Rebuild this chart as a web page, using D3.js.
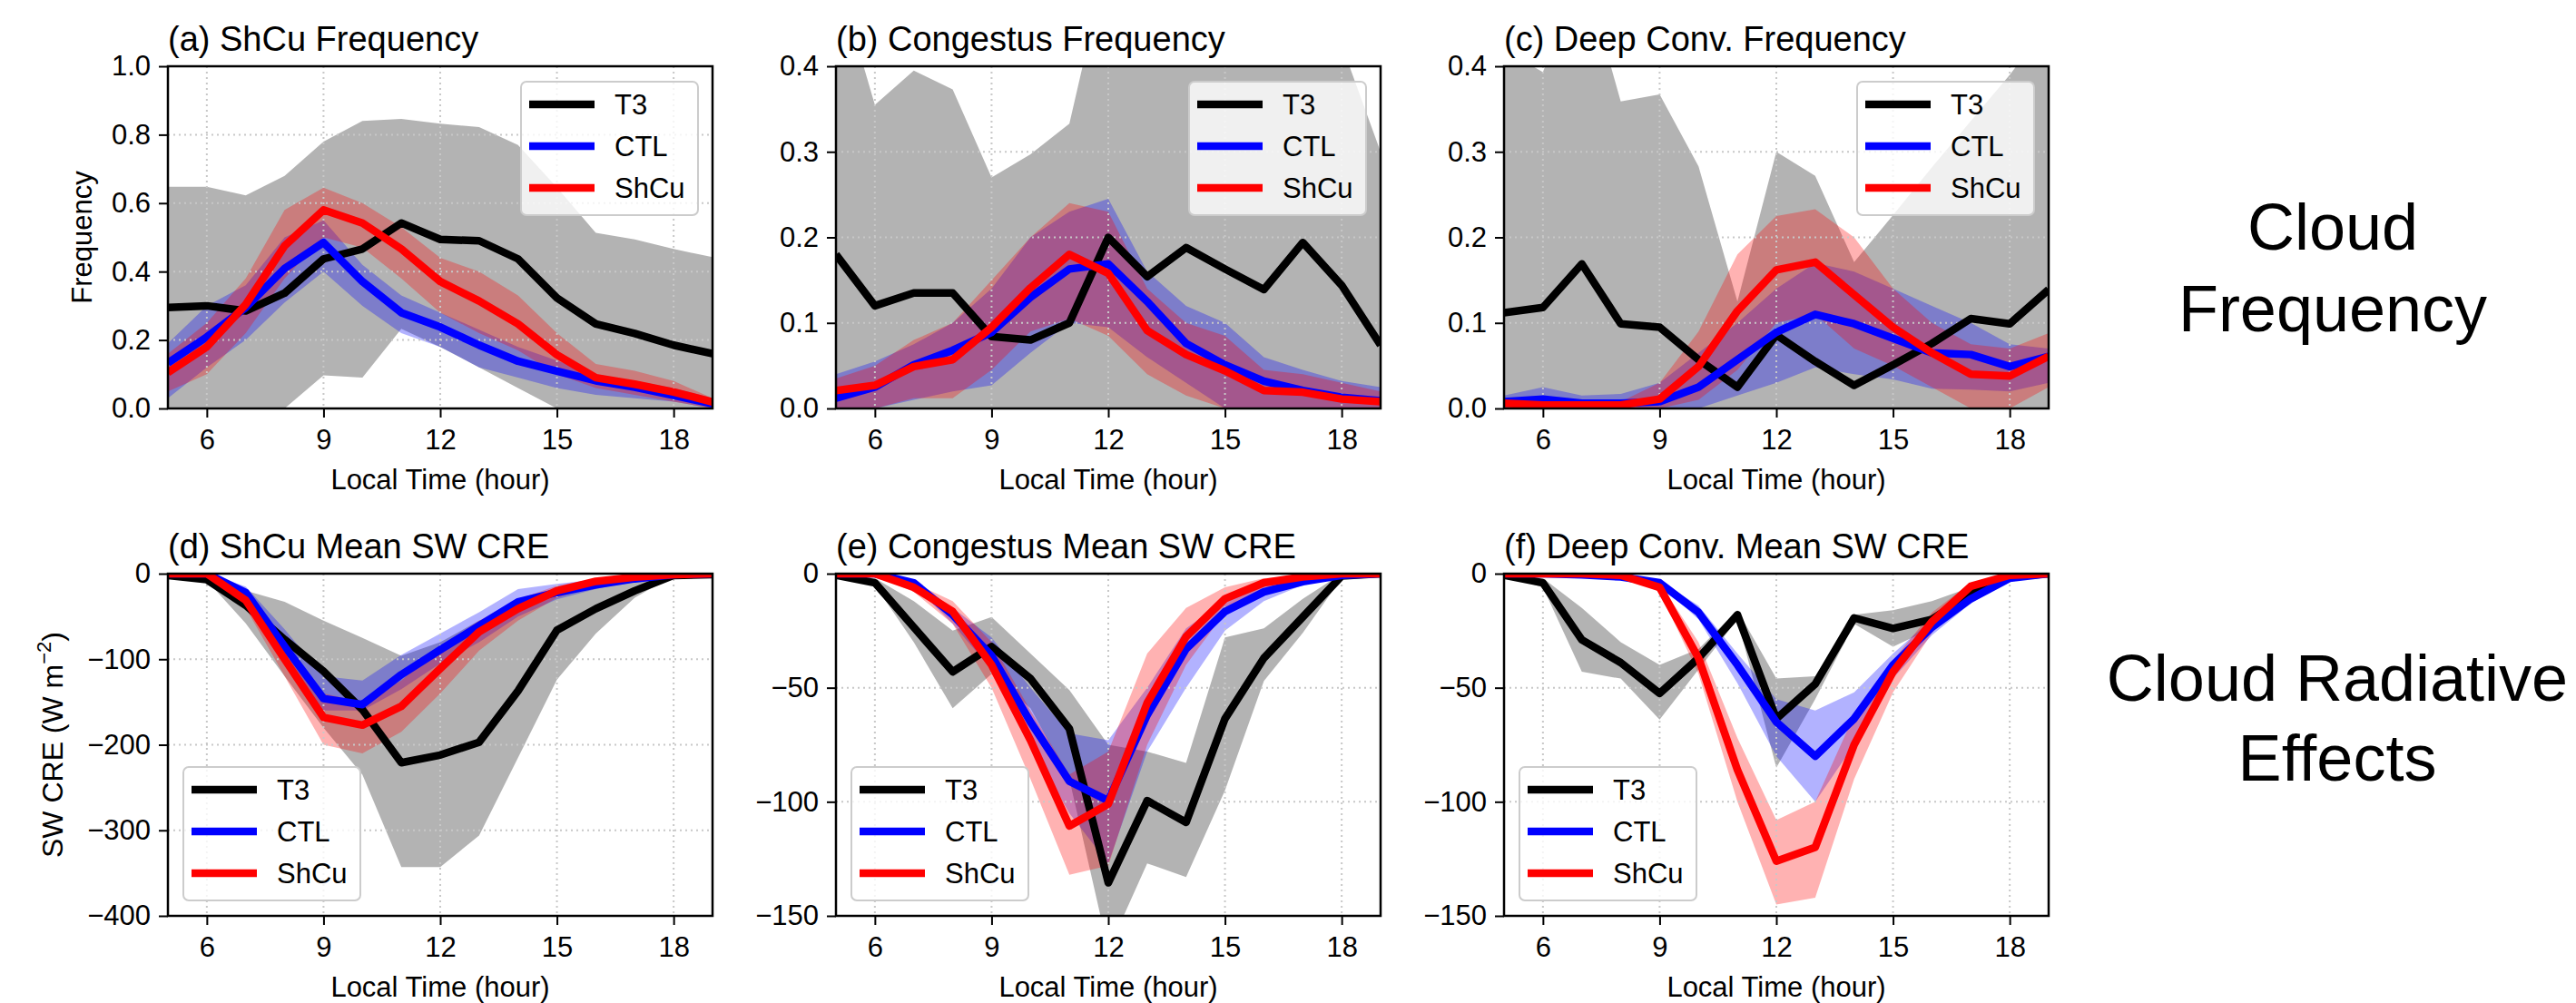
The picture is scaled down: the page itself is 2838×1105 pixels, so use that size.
<!DOCTYPE html>
<html>
<head>
<meta charset="utf-8">
<script src="https://cdn.jsdelivr.net/npm/d3@7"></script>
<style>
  body { margin: 0; background: #fff; }
  svg { display: block; }
  text { font-family: "Liberation Sans", Arial, Helvetica, sans-serif; fill: #000; }
</style>
</head>
<body>
<div id="chart"></div>
<script>
// local time (hour)
const hours = [5, 6, 7, 8, 9, 10, 11, 12, 13, 14, 15, 16, 17, 18, 19];
const xTicks = [6, 9, 12, 15, 18];
const seriesNames = ["T3", "CTL", "ShCu"];

// (a) ShCu frequency
const aT3 = [0.295, 0.30, 0.285, 0.337, 0.437, 0.466, 0.542, 0.494, 0.49, 0.437, 0.323, 0.247, 0.219, 0.185, 0.16];
const aT3Lo = [0, 0, 0, 0, 0.097, 0.09, 0.233, 0.18, 0.12, 0.06, 0, 0, 0, 0, 0];
const aT3Hi = [0.648, 0.648, 0.623, 0.68, 0.78, 0.84, 0.846, 0.832, 0.822, 0.77, 0.646, 0.513, 0.494, 0.466, 0.442];
const aCtl = [0.133, 0.209, 0.295, 0.409, 0.485, 0.371, 0.28, 0.238, 0.185, 0.138, 0.109, 0.081, 0.062, 0.038, 0.014];
const aCtlLo = [0.03, 0.12, 0.2, 0.31, 0.4, 0.3, 0.22, 0.18, 0.12, 0.09, 0.06, 0.04, 0.03, 0.02, 0.0];
const aCtlHi = [0.19, 0.3, 0.36, 0.5, 0.55, 0.42, 0.33, 0.28, 0.23, 0.18, 0.14, 0.1, 0.08, 0.06, 0.03];
const aShcu = [0.105, 0.18, 0.304, 0.475, 0.58, 0.542, 0.466, 0.371, 0.314, 0.247, 0.157, 0.09, 0.071, 0.048, 0.019];
const aShcuLo = [0.05, 0.1, 0.22, 0.38, 0.5, 0.47, 0.38, 0.28, 0.22, 0.17, 0.1, 0.06, 0.04, 0.02, 0.0];
const aShcuHi = [0.16, 0.25, 0.38, 0.58, 0.645, 0.6, 0.53, 0.44, 0.4, 0.33, 0.22, 0.13, 0.11, 0.08, 0.03];

// (b) Congestus frequency
const bT3 = [0.18, 0.12, 0.135, 0.135, 0.084, 0.08, 0.10, 0.2, 0.154, 0.188, 0.163, 0.139, 0.194, 0.144, 0.074];
const bT3Lo = [0, 0, 0, 0, 0, 0, 0, 0, 0, 0, 0, 0, 0, 0, 0];
const bT3Hi = [0.51, 0.355, 0.395, 0.373, 0.27, 0.297, 0.333, 0.53, 0.55, 0.6, 0.6, 0.55, 0.5, 0.425, 0.3];
const bCtl = [0.012, 0.025, 0.051, 0.068, 0.089, 0.13, 0.163, 0.169, 0.125, 0.076, 0.051, 0.032, 0.021, 0.013, 0.009];
const bCtlLo = [0, 0, 0.01, 0.02, 0.027, 0.065, 0.1, 0.095, 0.06, 0.03, 0, 0, 0, 0, 0];
const bCtlHi = [0.04, 0.055, 0.075, 0.1, 0.14, 0.2, 0.23, 0.245, 0.16, 0.12, 0.1, 0.06, 0.045, 0.032, 0.025];
const bShcu = [0.021, 0.027, 0.049, 0.057, 0.095, 0.141, 0.18, 0.158, 0.091, 0.063, 0.044, 0.021, 0.019, 0.011, 0.008];
const bShcuLo = [0, 0, 0.012, 0.012, 0.045, 0.09, 0.105, 0.085, 0.04, 0.015, 0, 0, 0, 0, 0];
const bShcuHi = [0.035, 0.05, 0.08, 0.1, 0.15, 0.2, 0.24, 0.23, 0.14, 0.1, 0.085, 0.045, 0.04, 0.03, 0.02];

// (c) Deep convection frequency
const cT3 = [0.112, 0.118, 0.169, 0.099, 0.095, 0.057, 0.025, 0.086, 0.055, 0.027, 0.051, 0.076, 0.105, 0.099, 0.139];
const cT3Lo = [0, 0, 0, 0, 0, 0, 0, 0, 0, 0, 0, 0, 0, 0, 0];
const cT3Hi = [0.42, 0.393, 0.52, 0.359, 0.367, 0.283, 0.125, 0.30, 0.272, 0.171, 0.226, 0.282, 0.336, 0.39, 0.45];
const cCtl = [0.008, 0.011, 0.006, 0.006, 0.008, 0.025, 0.057, 0.089, 0.11, 0.099, 0.082, 0.065, 0.063, 0.049, 0.061];
const cCtlLo = [0, 0, 0, 0, 0, 0, 0.015, 0.03, 0.048, 0.04, 0.034, 0.023, 0.022, 0.02, 0.03];
const cCtlHi = [0.015, 0.025, 0.015, 0.017, 0.03, 0.065, 0.1, 0.14, 0.17, 0.16, 0.14, 0.12, 0.1, 0.075, 0.07];
const cShcu = [0.006, 0.004, 0.004, 0.004, 0.011, 0.049, 0.114, 0.162, 0.171, 0.133, 0.095, 0.065, 0.04, 0.038, 0.061];
const cShcuLo = [0, 0, 0, 0, 0, 0.01, 0.045, 0.1, 0.11, 0.07, 0.05, 0.025, 0, 0, 0.025];
const cShcuHi = [0.012, 0.006, 0.006, 0.008, 0.03, 0.09, 0.18, 0.225, 0.233, 0.2, 0.14, 0.1, 0.075, 0.07, 0.088];

// (d) ShCu mean SW CRE
const dT3 = [-2, -7, -37, -77, -114, -159, -221, -212, -197, -137, -66, -41, -20, -2, -1];
const dT3Lo = [-1, -8, -58, -120, -180, -235, -343, -343, -306, -215, -124, -70, -28, -2, 0];
const dT3Hi = [0, -3, -20, -33, -55, -75, -96, -80, -55, -40, -20, -10, -4, 0, 0];
const dCtl = [0, 0, -22, -85, -146, -153, -118, -89, -61, -33, -22, -13, -6, -1, 0];
const dCtlLo = [0, 0, -28, -100, -160, -160, -135, -105, -80, -50, -30, -18, -8, -2, 0];
const dCtlHi = [0, 0, -15, -65, -120, -125, -95, -70, -45, -18, -12, -7, -3, 0, 0];
const dShcu = [0, 0, -31, -100, -168, -177, -155, -111, -68, -41, -20, -9, -4, -1, 0];
const dShcuLo = [0, 0, -40, -120, -200, -210, -185, -140, -90, -55, -28, -14, -6, -2, 0];
const dShcuHi = [0, 0, -20, -80, -140, -150, -125, -85, -55, -30, -14, -6, -2, 0, 0];

// (e) Congestus mean SW CRE
const eT3 = [-0.7, -4, -23.5, -43, -32, -46, -68, -135.5, -99.5, -109, -63.6, -37, -19, -1, 0];
const eT3Lo = [-1, -5, -30, -59, -44, -59, -90, -165, -127, -133, -95, -47, -26, -2, 0];
const eT3Hi = [0, -2, -12, -25, -19, -35, -51, -75, -78, -83, -28, -24, -11, 0, 0];
const eCtl = [0, 0, -4, -18, -36, -65, -91, -99.5, -62, -33, -16.6, -8, -3.5, -0.7, 0];
const eCtlLo = [0, -1, -5, -22, -42, -75, -105, -127, -78, -50, -25, -12, -5, -1, 0];
const eCtlHi = [0, 0, -3, -15, -28, -50, -70, -73, -50, -24, -12, -5, -2, 0, 0];
const eShcu = [0, 0, -6, -16.6, -40, -73, -110.6, -101, -56.7, -27.6, -11, -4, -1.4, 0, 0];
const eShcuLo = [0, -1, -8, -22, -50, -90, -132, -128, -75, -40, -17, -7, -2, 0, 0];
const eShcuHi = [0, 0, -4, -12, -30, -60, -88, -78, -35, -15, -6, -2, -1, 0, 0];

// (f) Deep convection mean SW CRE
const fT3 = [-0.7, -4, -29, -39, -52.5, -37, -18, -63.6, -48.4, -19.4, -24, -20, -9, -1.4, 0];
const fT3Lo = [-1, -6, -43, -46, -64, -42, -20, -85, -55, -22, -32, -24, -10, -2, 0];
const fT3Hi = [0, -2, -15, -30, -40, -33, -16, -46, -45, -18, -16, -12, -6, 0, 0];
const fCtl = [0, 0, -0.5, -1.4, -4, -17, -40, -65, -80, -63.6, -40, -23.5, -11, -2, 0];
const fCtlLo = [0, 0, 0, -2, -5, -20, -48, -80, -100, -75, -46, -27, -13, -3, 0];
const fCtlHi = [0, 0, 0, -1, -3, -14, -35, -55, -60, -52, -35, -20, -8, -1, 0];
const fShcu = [0, 0, 0, -0.7, -6, -37, -86, -126, -120, -75, -43, -21, -5.5, -0.7, 0];
const fShcuLo = [0, 0, 0, -1, -8, -44, -100, -145, -142, -90, -52, -26, -8, -1, 0];
const fShcuHi = [0, 0, 0, 0, -4, -30, -72, -108, -100, -62, -38, -17, -4, 0, 0];

// y tick labels
const freqTicksA = [0, 0.2, 0.4, 0.6, 0.8, 1.0];
const freqTicksBC = [0, 0.1, 0.2, 0.3, 0.4];
const creTicksD = [0, -100, -200, -300, -400];
const creTicksEF = [0, -50, -100, -150];

// layout
const W = 2838, H = 1105;
const colX = [185, 921, 1657];
const rowY = [73, 632];
const pw = 600, ph = 377;

const lineColors = ["#000000", "#0000ff", "#ff0000"];
const bandColors = ["#808080", "#0000ff", "#ff0000"];
const bandOpacity = [0.6, 0.3, 0.3];

const panels = [
  { id: "a", title: "(a) ShCu Frequency", col: 0, row: 0, dom: [0, 1], ticks: freqTicksA, fmt: d3.format(".1f"), ylabel: "Frequency", legend: "ur",
    mean: [aT3, aCtl, aShcu], lo: [aT3Lo, aCtlLo, aShcuLo], hi: [aT3Hi, aCtlHi, aShcuHi] },
  { id: "b", title: "(b) Congestus Frequency", col: 1, row: 0, dom: [0, 0.4], ticks: freqTicksBC, fmt: d3.format(".1f"), legend: "ur",
    mean: [bT3, bCtl, bShcu], lo: [bT3Lo, bCtlLo, bShcuLo], hi: [bT3Hi, bCtlHi, bShcuHi] },
  { id: "c", title: "(c) Deep Conv. Frequency", col: 2, row: 0, dom: [0, 0.4], ticks: freqTicksBC, fmt: d3.format(".1f"), legend: "ur",
    mean: [cT3, cCtl, cShcu], lo: [cT3Lo, cCtlLo, cShcuLo], hi: [cT3Hi, cCtlHi, cShcuHi] },
  { id: "d", title: "(d) ShCu Mean SW CRE", col: 0, row: 1, dom: [-400, 0], ticks: creTicksD, fmt: d3.format("d"), ylabel: "cre", legend: "ll",
    mean: [dT3, dCtl, dShcu], lo: [dT3Lo, dCtlLo, dShcuLo], hi: [dT3Hi, dCtlHi, dShcuHi] },
  { id: "e", title: "(e) Congestus Mean SW CRE", col: 1, row: 1, dom: [-150, 0], ticks: creTicksEF, fmt: d3.format("d"), legend: "ll",
    mean: [eT3, eCtl, eShcu], lo: [eT3Lo, eCtlLo, eShcuLo], hi: [eT3Hi, eCtlHi, eShcuHi] },
  { id: "f", title: "(f) Deep Conv. Mean SW CRE", col: 2, row: 1, dom: [-150, 0], ticks: creTicksEF, fmt: d3.format("d"), legend: "ll",
    mean: [fT3, fCtl, fShcu], lo: [fT3Lo, fCtlLo, fShcuLo], hi: [fT3Hi, fCtlHi, fShcuHi] },
];

const svg = d3.select("#chart").append("svg").attr("width", W).attr("height", H);
svg.append("rect").attr("width", W).attr("height", H).attr("fill", "#fff");
const defs = svg.append("defs");

const x = d3.scaleLinear().domain([5, 19]).range([0, pw]);

panels.forEach((p) => {
  const g = svg.append("g").attr("transform", `translate(${colX[p.col]},${rowY[p.row]})`);
  const y = d3.scaleLinear().domain(p.dom).range([ph, 0]);

  defs.append("clipPath").attr("id", "clip-" + p.id)
    .append("rect").attr("width", pw).attr("height", ph);
  const plot = g.append("g").attr("clip-path", `url(#clip-${p.id})`);

  // spread bands
  seriesNames.forEach((s, k) => {
    const area = d3.area()
      .x((d, i) => x(hours[i]))
      .y0((d, i) => y(p.lo[k][i]))
      .y1((d, i) => y(p.hi[k][i]));
    plot.append("path")
      .attr("d", area(hours))
      .attr("fill", bandColors[k])
      .attr("fill-opacity", bandOpacity[k]);
  });

  // dotted grid
  const grid = plot.append("g")
    .attr("stroke", "#c8c8c8")
    .attr("stroke-width", 2)
    .attr("stroke-dasharray", "2,4");
  xTicks.forEach((t) => grid.append("line").attr("x1", x(t)).attr("x2", x(t)).attr("y1", 0).attr("y2", ph));
  p.ticks.forEach((t) => grid.append("line").attr("x1", 0).attr("x2", pw).attr("y1", y(t)).attr("y2", y(t)));

  // mean lines
  seriesNames.forEach((s, k) => {
    const line = d3.line().x((d, i) => x(hours[i])).y((d) => y(d));
    plot.append("path")
      .attr("d", line(p.mean[k]))
      .attr("fill", "none")
      .attr("stroke", lineColors[k])
      .attr("stroke-width", 8.5)
      .attr("stroke-linejoin", "round");
  });

  // axes
  const yAxis = g.append("g")
    .call(d3.axisLeft(y).tickValues(p.ticks).tickFormat(p.fmt).tickSize(10).tickPadding(9).tickSizeOuter(0));
  const xAxis = g.append("g").attr("transform", `translate(0,${ph})`)
    .call(d3.axisBottom(x).tickValues(xTicks).tickSize(10).tickPadding(13).tickSizeOuter(0));
  [yAxis, xAxis].forEach((ax) => {
    ax.select(".domain").remove();
    ax.selectAll(".tick line").attr("stroke", "#000").attr("stroke-width", 2);
    ax.selectAll(".tick text").attr("font-size", "31px").attr("fill", "#000")
      .style("font-family", '"Liberation Sans", Arial, sans-serif');
  });

  // frame
  g.append("rect").attr("width", pw).attr("height", ph)
    .attr("fill", "none").attr("stroke", "#000").attr("stroke-width", 2.5);

  // title and axis labels
  g.append("text").attr("x", 0).attr("y", -17).attr("font-size", "38px").text(p.title);
  g.append("text").attr("x", pw / 2).attr("y", ph + 89).attr("text-anchor", "middle")
    .attr("font-size", "31px").text("Local Time (hour)");

  if (p.ylabel === "Frequency") {
    g.append("text").attr("transform", `translate(${101 - colX[p.col]},${ph / 2}) rotate(-90)`)
      .attr("text-anchor", "middle").attr("font-size", "31px").text("Frequency");
  } else if (p.ylabel === "cre") {
    const t = g.append("text").attr("transform", `translate(${69 - colX[p.col]},${ph / 2}) rotate(-90)`)
      .attr("text-anchor", "middle").attr("font-size", "32px");
    t.append("tspan").text("SW CRE (W m");
    t.append("tspan").attr("dy", -13).attr("font-size", "22px").text("\u22122");
    t.append("tspan").attr("dy", 13).text(")");
  }

  // legend
  const lw = 195, lh = 147;
  const lx = p.legend === "ur" ? pw - 16 - lw : 17;
  const ly = p.legend === "ur" ? 17 : ph - 17 - lh;
  const leg = g.append("g").attr("transform", `translate(${lx},${ly})`);
  leg.append("rect").attr("width", lw).attr("height", lh).attr("rx", 6)
    .attr("fill", "#fff").attr("fill-opacity", 0.8)
    .attr("stroke", "#cccccc").attr("stroke-width", 2);
  seriesNames.forEach((s, k) => {
    const yy = 25 + k * 46;
    leg.append("line").attr("x1", 9).attr("x2", 81).attr("y1", yy).attr("y2", yy)
      .attr("stroke", lineColors[k]).attr("stroke-width", 8.5);
    leg.append("text").attr("x", 103).attr("y", yy).attr("dy", "0.36em")
      .attr("font-size", "31px").text(s);
  });
});

// row annotations on the right
const side = svg.append("g").attr("font-size", "72px").attr("text-anchor", "middle");
side.append("text").attr("x", 2570).attr("y", 275).text("Cloud");
side.append("text").attr("x", 2570).attr("y", 365).text("Frequency");
side.append("text").attr("x", 2575).attr("y", 772).text("Cloud Radiative");
side.append("text").attr("x", 2575).attr("y", 860).text("Effects");
</script>
</body>
</html>
